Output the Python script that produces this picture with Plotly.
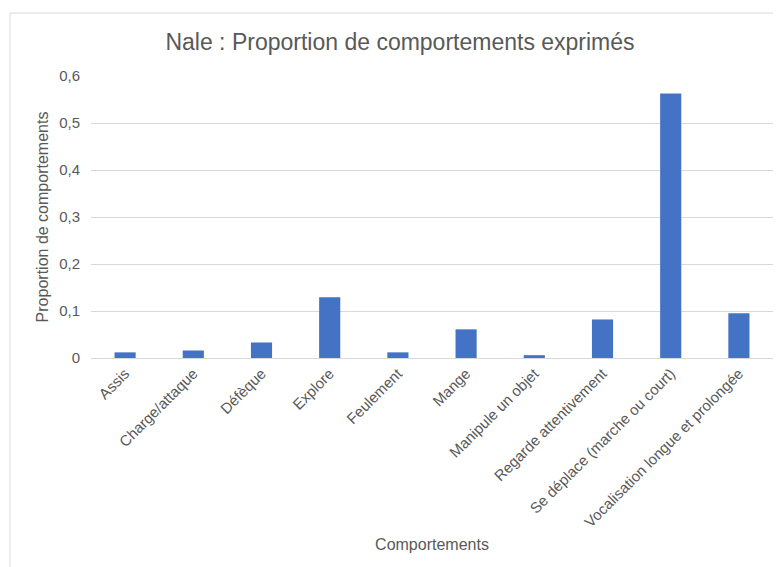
import plotly.graph_objects as go

categories = ["Assis", "Charge/attaque", "Défèque", "Explore", "Feulement", "Mange",
              "Manipule un objet", "Regarde attentivement", "Se déplace (marche ou court)",
              "Vocalisation longue et prolongée"]
values = [0.012, 0.016, 0.033, 0.129, 0.012, 0.061, 0.006, 0.082, 0.563, 0.095]
y_ticks = [0, 0.1, 0.2, 0.3, 0.4, 0.5, 0.6]
y_ticklabels = ["0", "0,1", "0,2", "0,3", "0,4", "0,5", "0,6"]

FONT = "Liberation Sans, Arial, sans-serif"
GREY = "#595959"

fig = go.Figure(go.Bar(x=categories, y=values, marker=dict(color="#4472C4", line=dict(width=0))))

# page body has an 8px margin: figure origin sits at (8, 8) in the window
OFF = 8
W, H = 781 - OFF, 567 - OFF
ml = 91 - OFF
mt = 76 - OFF
mr = 781 - 773
mb = H - (358 - OFF)
pw, ph = W - ml - mr, H - mt - mb

fig.update_layout(
    width=W, height=H,
    margin=dict(l=ml, r=mr, t=mt, b=mb, autoexpand=False),
    paper_bgcolor="white", plot_bgcolor="white",
    bargap=0.69,
    showlegend=False,
    font=dict(family=FONT, color=GREY, size=14),
    title=dict(text="Nale : Proportion de comportements exprimés", x=(400 - OFF - ml) / pw, xref="paper",
               xanchor="center", y=1 - (42 - OFF) / H, yanchor="middle",
               font=dict(size=23, color=GREY, family=FONT)),
    xaxis=dict(tickangle=-45, tickfont=dict(size=15, color=GREY), showgrid=False,
               showline=True, linecolor="#d9d9d9", linewidth=1, ticks="",
               title=dict(text="Comportements", font=dict(size=16, color=GREY), standoff=9)),
    yaxis=dict(range=[0, 0.6], tickvals=y_ticks, ticktext=y_ticklabels,
               tickfont=dict(size=15, color=GREY), gridcolor="#d9d9d9", gridwidth=1,
               zeroline=False, showline=False, ticks="", ticklabelstandoff=10,
               title=dict(text="Proportion de comportements", font=dict(size=16, color=GREY), standoff=6)),
    shapes=[dict(type="rect", xref="paper", yref="paper",
                 x0=(10 - OFF - ml) / pw, x1=(W + 20 - ml) / pw,
                 y0=(H - mb - (H + 20)) / ph, y1=(H - mb - (13 - OFF)) / ph,
                 line=dict(color="#d9d9d9", width=1), fillcolor="rgba(0,0,0,0)", layer="below")],
)

fig.write_html("out.html")
